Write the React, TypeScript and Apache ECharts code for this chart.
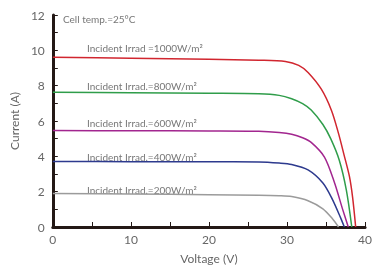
import React, { useEffect, useRef } from "react";
import * as echarts from "echarts";

const xTicks = [0, 10, 20, 30, 40];
const yTicks = [0, 2, 4, 6, 8, 10, 12];

const irr1000: [number, number][] = [[0, 9.61], [10, 9.55], [20, 9.49], [26.4, 9.44], [29.8, 9.37], [31.5, 9.15], [32.7, 8.75], [34.4, 7.8], [35.7, 6.6], [36.6, 5.3], [37.3, 4.1], [38.0, 2.86], [38.4, 1.7], [38.8, 0]];
const irr800: [number, number][] = [[0, 7.63], [10, 7.6], [20, 7.57], [26.4, 7.54], [29, 7.45], [30.6, 7.26], [32, 6.98], [33.1, 6.62], [34.6, 5.8], [35.6, 5.0], [36.7, 3.78], [37.6, 2.1], [38.3, 0]];
const irr600: [number, number][] = [[0, 5.46], [10, 5.45], [20, 5.44], [26.4, 5.42], [29, 5.35], [30.6, 5.25], [32, 5.05], [33.1, 4.79], [34.8, 3.96], [36.1, 2.49], [37.1, 1.04], [37.85, 0]];
const irr400: [number, number][] = [[0, 3.71], [10, 3.7], [20, 3.69], [26.4, 3.68], [29, 3.62], [30.6, 3.54], [32.7, 3.23], [34.6, 2.49], [35.8, 1.58], [36.9, 0.49], [37.35, 0]];
const irr200: [number, number][] = [[0, 1.9], [10, 1.87], [20, 1.83], [26.4, 1.8], [29, 1.77], [30.6, 1.72], [32.7, 1.49], [34.6, 1.03], [35.8, 0.48], [36.6, 0]];

const seriesNames = ["1000", "800", "600", "400", "200"];
const labels = [
  "Incident Irrad =1000W/m²",
  "Incident Irrad.=800W/m²",
  "Incident Irrad.=600W/m²",
  "Incident Irrad.=400W/m²",
  "Incident Irrad.=200W/m²",
];
const colors = ["#d1262f", "#2f9d4a", "#a2268f", "#2d3a8e", "#9b9b9b"];
const labelY = [50, 88, 125, 159, 192];

export default function App() {
  const ref = useRef<HTMLDivElement>(null);
  useEffect(() => {
    if (!ref.current) return;
    const chart = echarts.init(ref.current, null, { renderer: "svg" });
    const datasets = [irr1000, irr800, irr600, irr400, irr200];
    const font = "Lato";
    chart.setOption({
      animation: false,
      textStyle: { fontFamily: font },
      grid: { left: 51, right: 8, top: 15, bottom: 37 },
      xAxis: {
        type: "value",
        min: 0,
        max: 40,
        interval: 5,
        name: "Voltage (V)",
        nameLocation: "middle",
        nameGap: 25,
        nameTextStyle: { color: "#666", fontSize: 12, fontFamily: font },
        axisLine: { lineStyle: { color: "#231815", width: 3 } },
        axisTick: { inside: true, length: 5, lineStyle: { color: "#231815", width: 1 } },
        axisLabel: {
          color: "#666",
          fontSize: 12,
          margin: 6,
          formatter: (v: number) => (xTicks.includes(v) ? String(v) : ""),
        },
        splitLine: { show: false },
      },
      yAxis: {
        type: "value",
        min: 0,
        max: 12,
        interval: 1,
        name: "Current (A)",
        nameLocation: "middle",
        nameGap: 24,
        nameTextStyle: { color: "#666", fontSize: 12, fontFamily: font },
        axisLine: { lineStyle: { color: "#231815", width: 3 } },
        axisTick: { inside: true, length: 5, lineStyle: { color: "#231815", width: 1 } },
        axisLabel: {
          color: "#666",
          fontSize: 12,
          margin: 8,
          formatter: (v: number) => (yTicks.includes(v) ? String(v) : ""),
        },
        splitLine: { show: false },
      },
      series: datasets.map((d, i) => ({
        name: seriesNames[i],
        type: "line",
        data: d,
        smooth: 0.3,
        showSymbol: false,
        lineStyle: { color: colors[i], width: 1.5 },
        z: 1,
      })),
      graphic: [
        {
          type: "text",
          left: 63,
          top: 14,
          style: { text: "Cell temp.=25°C", fill: "#777", fontSize: 10, fontFamily: font },
        },
        ...labels.map((t, i) => ({
          type: "text",
          left: 87,
          top: labelY[i] - 7,
          style: { text: t, fill: "#777", fontSize: 10, fontFamily: font },
        })),
      ],
    });
    return () => chart.dispose();
  }, []);
  return <div ref={ref} style={{ position: "fixed", left: 0, top: 0, width: 375, height: 269 }} />;
}
